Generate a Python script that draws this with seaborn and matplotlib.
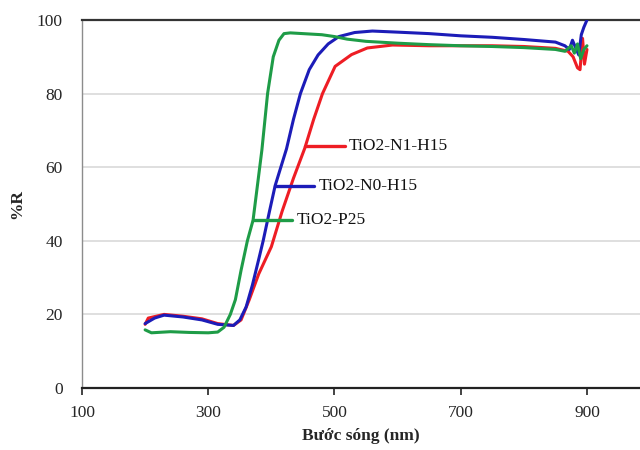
import numpy as np
import pandas as pd
import matplotlib
matplotlib.use("Agg")
import matplotlib.pyplot as plt
import seaborn as sns

# Diffuse reflectance spectra (wavelength in nm, reflectance in %)
wl_n1 = [200, 205, 230, 260, 290, 315, 340, 352, 365, 380, 400, 417, 435, 453, 467,
         481, 501, 527, 552, 592, 650, 700, 750, 800, 850, 870, 878, 885, 889, 893, 896, 900]
r_n1 = [17.3, 19.0, 20.0, 19.5, 18.8, 17.5, 17.0, 18.5, 24.0, 31.0, 38.4, 48.0, 57.0, 65.2, 73.0,
        80.0, 87.4, 90.6, 92.4, 93.2, 93.0, 93.0, 93.0, 92.8, 92.3, 91.5, 90.0, 87.0, 86.5, 95.0, 88.0, 92.0]

wl_n0 = [200, 215, 230, 260, 290, 315, 340, 350, 360, 370, 380, 387, 397, 406, 424, 435,
         446, 460, 474, 490, 507, 532, 560, 600, 650, 700, 750, 800, 850, 865, 872, 877,
         882, 887, 891, 895, 900]
r_n0 = [17.5, 19.0, 19.8, 19.3, 18.5, 17.3, 17.0, 18.5, 22.0, 28.0, 35.0, 40.0, 48.0, 55.0, 65.0, 73.0,
        80.0, 86.5, 90.5, 93.5, 95.5, 96.6, 97.0, 96.7, 96.3, 95.7, 95.3, 94.7, 94.0, 93.0, 92.0, 94.5,
        92.5, 90.5, 96.0, 98.0, 100.0]

wl_p25 = [200, 210, 240, 270, 300, 315, 325, 335, 343, 352, 362, 371, 385, 394, 403, 412,
          420, 430, 450, 480, 500, 520, 550, 600, 650, 700, 750, 800, 850, 865, 875, 880,
          885, 890, 895, 900]
r_p25 = [15.8, 15.0, 15.3, 15.1, 15.0, 15.2, 16.5, 20.0, 24.0, 32.0, 40.0, 45.6, 64.7, 80.0, 90.0, 94.5,
         96.3, 96.5, 96.3, 96.0, 95.5, 94.8, 94.2, 93.7, 93.3, 93.0, 92.8, 92.5, 92.0, 91.5, 93.0, 91.0,
         93.5, 89.5, 92.0, 93.0]

series_names = ["TiO2-N1-H15", "TiO2-N0-H15", "TiO2-P25"]
series_colors = ["#EE1D24", "#1C1CB8", "#1E9C47"]
# wavelength where each callout line leaves its curve
label_anchor_nm = [454, 406, 371]

x_ticks = [100, 300, 500, 700, 900]
y_ticks = [0, 20, 40, 60, 80, 100]

frames = []
for name, wl, r in zip(series_names, [wl_n1, wl_n0, wl_p25], [r_n1, r_n0, r_p25]):
    frames.append(pd.DataFrame({"wl": wl, "R": r, "sample": name}))
df = pd.concat(frames, ignore_index=True)

sns.set_style("white")
plt.rcParams["font.family"] = ["Liberation Serif", "DejaVu Serif"]

fig = plt.figure(figsize=(6.4, 4.5), dpi=100)
ax = fig.add_axes([82 / 640, 1 - 388 / 450, 1 - 82 / 640, (388 - 20) / 450])

sns.lineplot(data=df, x="wl", y="R", hue="sample", hue_order=series_names,
             palette=dict(zip(series_names, series_colors)), estimator=None,
             sort=False, linewidth=2.2, legend=False, ax=ax, zorder=3)

# callouts: short line from the curve to the sample name
seg_len = 62
for name, wl, r, col, a in zip(series_names, [wl_n1, wl_n0, wl_p25],
                               [r_n1, r_n0, r_p25], series_colors, label_anchor_nm):
    y = np.interp(a, wl, r)
    ax.plot([a, a + seg_len], [y, y], color=col, linewidth=2.4, zorder=4)
    ax.text(a + seg_len + 7, y, name, fontsize=12.5, va="center", ha="left",
            color="#111111", zorder=5)

ax.set_xlim(100, 984)
ax.set_ylim(0, 100)
ax.set_xticks(x_ticks)
ax.set_yticks(y_ticks)
ax.set_xticklabels([str(v) for v in x_ticks], fontsize=12.5)
ax.set_yticklabels([str(v) for v in y_ticks], fontsize=12.5)

for v in y_ticks[1:-1]:
    ax.axhline(v, color="#d9d9d9", linewidth=1.2, zorder=1)

ax.spines["right"].set_visible(False)
ax.spines["top"].set_color("#333333")
ax.spines["top"].set_linewidth(1.6)
ax.spines["bottom"].set_color("#222222")
ax.spines["bottom"].set_linewidth(1.6)
ax.spines["left"].set_color("#8c8c8c")
ax.spines["left"].set_linewidth(1.0)

ax.tick_params(axis="x", direction="out", length=5, width=1.2, color="#222222",
               pad=7, bottom=True)
ax.tick_params(axis="y", length=0, pad=14)

ax.set_xlabel("Bước sóng (nm)", fontsize=12.5, fontweight="bold", labelpad=5)
ax.set_ylabel("%R", fontsize=12.5, fontweight="bold", labelpad=8)

fig.savefig("out.png", dpi=100)
